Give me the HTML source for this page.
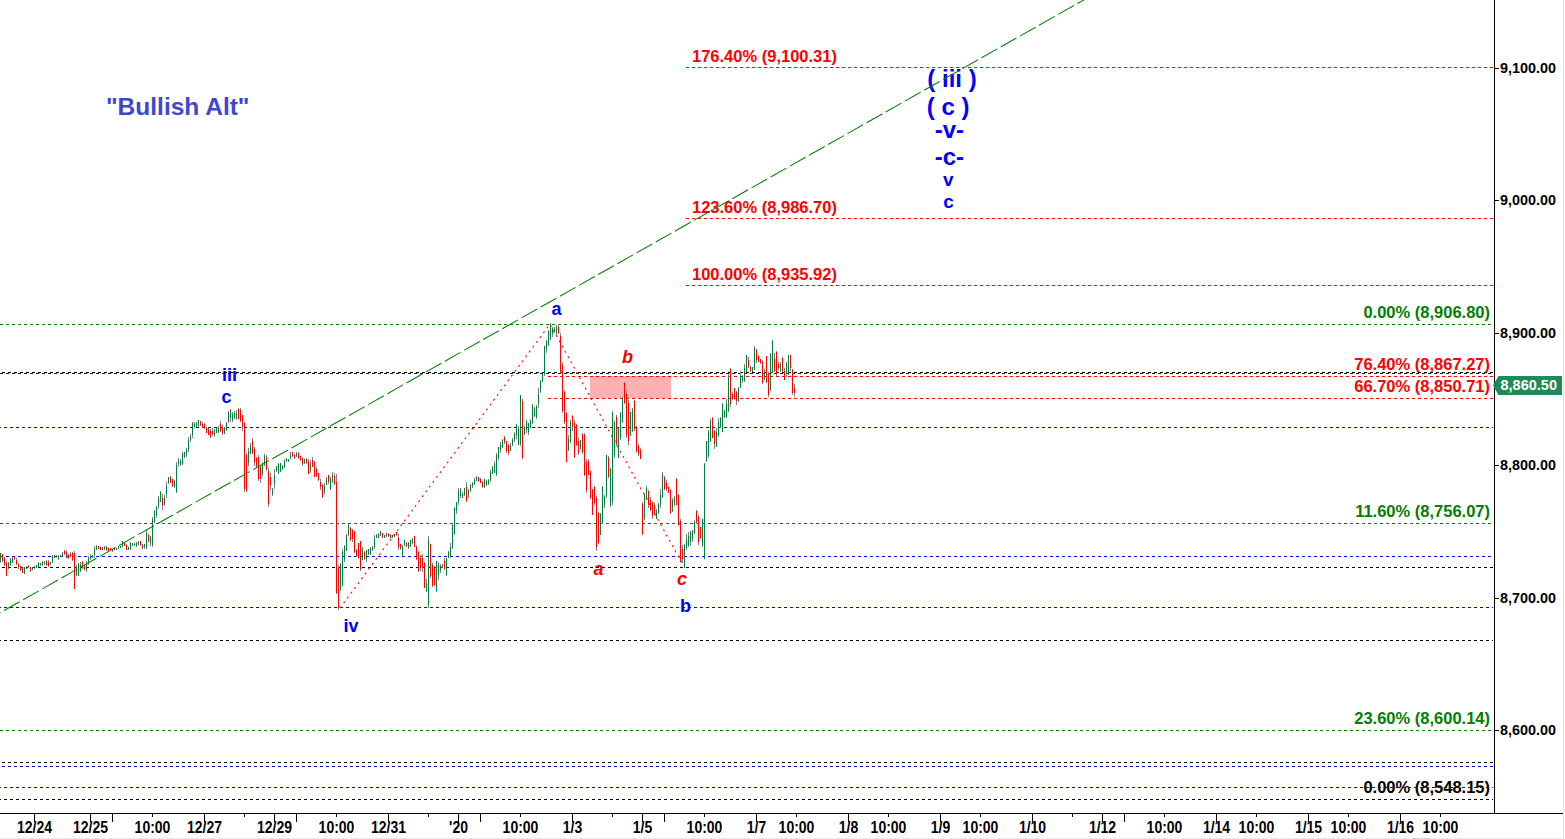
<!DOCTYPE html>
<html><head><meta charset="utf-8">
<style>
html,body{margin:0;padding:0;background:#fff;}
body{width:1565px;height:839px;overflow:hidden;position:relative;}
svg{position:absolute;left:0;top:0;}
text{font-family:"Liberation Sans",sans-serif;font-weight:bold;}
</style></head><body>
<svg width="1565" height="839" viewBox="0 0 1565 839">
<rect x="0" y="0" width="1565" height="839" fill="#ffffff"/>

<rect x="590" y="376" width="81" height="22" fill="#ffb0b0"/>
<text x="106" y="115" font-size="24.5" fill="#3f48cc">"Bullish Alt"</text>
<text x="229.5" y="381" font-size="18" fill="#0000ff" text-anchor="middle">iii</text>
<text x="226.5" y="403" font-size="18" fill="#0000ff" text-anchor="middle">c</text>
<text x="351" y="632" font-size="18" fill="#0000ff" text-anchor="middle">iv</text>
<text x="556.5" y="315" font-size="18" fill="#0000ff" text-anchor="middle">a</text>
<text x="685.5" y="612" font-size="18" fill="#0000ff" text-anchor="middle">b</text>
<text x="627.5" y="363" font-size="18" fill="#ff0000" text-anchor="middle" font-style="italic">b</text>
<text x="598.5" y="575" font-size="18" fill="#ff0000" text-anchor="middle" font-style="italic">a</text>
<text x="682" y="585" font-size="18" fill="#ff0000" text-anchor="middle" font-style="italic">c</text>
<text x="952" y="87" font-size="24" fill="#0000ff" text-anchor="middle">( iii )</text>
<text x="948.2" y="115" font-size="24" fill="#0000ff" text-anchor="middle">( c )</text>
<text x="949.4" y="137.5" font-size="24" fill="#0000ff" text-anchor="middle">-v-</text>
<text x="949.4" y="165" font-size="24" fill="#0000ff" text-anchor="middle">-c-</text>
<text x="948.3" y="186" font-size="19" fill="#0000ff" text-anchor="middle">v</text>
<text x="948.6" y="207.5" font-size="19" fill="#0000ff" text-anchor="middle">c</text>
<text x="692" y="61.5" font-size="16.5" fill="#ff0000">176.40% (9,100.31)</text>
<text x="692" y="212.5" font-size="16.5" fill="#ff0000">123.60% (8,986.70)</text>
<text x="692" y="279.5" font-size="16.5" fill="#ff0000">100.00% (8,935.92)</text>
<text x="1490" y="318" font-size="16.5" fill="#008000" text-anchor="end">0.00% (8,906.80)</text>
<text x="1490" y="370" font-size="16.5" fill="#ff0000" text-anchor="end">76.40% (8,867.27)</text>
<text x="1490" y="392" font-size="16.5" fill="#ff0000" text-anchor="end">66.70% (8,850.71)</text>
<text x="1490" y="517" font-size="16.5" fill="#008000" text-anchor="end">11.60% (8,756.07)</text>
<text x="1490" y="724" font-size="16.5" fill="#008000" text-anchor="end">23.60% (8,600.14)</text>
<text x="1490" y="793" font-size="16.5" fill="#000000" text-anchor="end">0.00% (8,548.15)</text>
<g shape-rendering="crispEdges">
<line x1="686" y1="67.5" x2="1493" y2="67.5" stroke="#ff0000" stroke-width="1" stroke-dasharray="3 3" stroke-dashoffset="0"/>
<line x1="686" y1="218.5" x2="1493" y2="218.5" stroke="#ff0000" stroke-width="1" stroke-dasharray="3 3" stroke-dashoffset="0"/>
<line x1="686" y1="285.5" x2="1493" y2="285.5" stroke="#ff0000" stroke-width="1" stroke-dasharray="3 3" stroke-dashoffset="0"/>
<line x1="0" y1="324.5" x2="1493" y2="324.5" stroke="#008000" stroke-width="1" stroke-dasharray="3 3" stroke-dashoffset="0"/>
<line x1="0" y1="372.5" x2="1493" y2="372.5" stroke="#000000" stroke-width="1" stroke-dasharray="3 3" stroke-dashoffset="4"/>
<line x1="0" y1="373.5" x2="1493" y2="373.5" stroke="#0000ff" stroke-width="1" stroke-dasharray="3 3" stroke-dashoffset="0"/>
<line x1="548" y1="376.5" x2="1493" y2="376.5" stroke="#ff0000" stroke-width="1" stroke-dasharray="3 3" stroke-dashoffset="0"/>
<line x1="548" y1="398.5" x2="1493" y2="398.5" stroke="#ff0000" stroke-width="1" stroke-dasharray="3 3" stroke-dashoffset="0"/>
<line x1="0" y1="427.5" x2="1493" y2="427.5" stroke="#0000ff" stroke-width="1" stroke-dasharray="3 3" stroke-dashoffset="2"/>
<line x1="0" y1="523.5" x2="1493" y2="523.5" stroke="#008000" stroke-width="1" stroke-dasharray="3 3" stroke-dashoffset="0"/>
<line x1="0" y1="556.5" x2="1493" y2="556.5" stroke="#0000ff" stroke-width="1" stroke-dasharray="3 3" stroke-dashoffset="0"/>
<line x1="0" y1="567.5" x2="1493" y2="567.5" stroke="#000000" stroke-width="1" stroke-dasharray="3 3" stroke-dashoffset="4"/>
<line x1="0" y1="607.5" x2="1493" y2="607.5" stroke="#0000ff" stroke-width="1" stroke-dasharray="3 3" stroke-dashoffset="2"/>
<line x1="0" y1="640.5" x2="1493" y2="640.5" stroke="#000000" stroke-width="1" stroke-dasharray="3 3" stroke-dashoffset="2"/>
<line x1="0" y1="730.5" x2="1493" y2="730.5" stroke="#008000" stroke-width="1" stroke-dasharray="3 3" stroke-dashoffset="0"/>
<line x1="0" y1="762.5" x2="1493" y2="762.5" stroke="#000000" stroke-width="1" stroke-dasharray="3 3" stroke-dashoffset="4"/>
<line x1="0" y1="766.5" x2="1493" y2="766.5" stroke="#0000ff" stroke-width="1" stroke-dasharray="3 3" stroke-dashoffset="4"/>
<line x1="0" y1="787.5" x2="1493" y2="787.5" stroke="#0000ff" stroke-width="1" stroke-dasharray="3 3" stroke-dashoffset="2"/>
<line x1="0" y1="799.5" x2="1493" y2="799.5" stroke="#000000" stroke-width="1" stroke-dasharray="3 3" stroke-dashoffset="2"/>
</g>
<g shape-rendering="crispEdges">
<path d="M0.5 553V563M2.5 554V562M4.5 557V566M6.5 561V576M8.5 562V569M10.5 558V566M12.5 557V563M14.5 556V560M16.5 558V565M18.5 563V569M20.5 566V571M22.5 567V573M24.5 567V574M26.5 566V569M28.5 565V568M30.5 567V572M32.5 567V570M34.5 566V569M36.5 565V568M38.5 562V567M40.5 563V566M42.5 561V566M44.5 561V565M46.5 560V566M48.5 560V567M50.5 562V565M52.5 555V563M54.5 555V558M56.5 555V558M58.5 555V560M60.5 555V557M62.5 552V556M64.5 550V555M66.5 550V558M68.5 554V559M70.5 552V557M72.5 552V561M74.5 551V589M76.5 565V576M78.5 563V576M80.5 562V572M82.5 561V569M84.5 565V570M86.5 561V572M88.5 556V565M90.5 554V560M92.5 555V558M94.5 546V558M96.5 545V550M98.5 546V549M100.5 547V550M102.5 547V550M104.5 546V550M106.5 546V551M108.5 548V551M110.5 548V550M112.5 549V552M114.5 547V550M116.5 548V550M118.5 546V549M120.5 546V548M122.5 541V547M124.5 542V546M126.5 544V550M128.5 547V550M130.5 542V550M132.5 543V546M134.5 543V546M136.5 542V547M138.5 541V545M140.5 541V546M142.5 544V549M144.5 544V549M146.5 530V549M148.5 534V542M150.5 536V546M152.5 517V547M154.5 510V523M156.5 506V518M158.5 496V509M160.5 491V502M162.5 494V510M164.5 495V506M166.5 482V498M168.5 477V484M170.5 476V483M172.5 479V487M174.5 480V488M176.5 462V493M178.5 458V467M180.5 459V466M182.5 452V465M184.5 452V458M186.5 448V457M188.5 437V452M190.5 434V442M192.5 422V438M194.5 422V428M196.5 422V427M198.5 420V427M200.5 421V426M202.5 422V428M204.5 423V429M206.5 427V433M208.5 428V435M210.5 429V438M212.5 428V436M214.5 429V437M216.5 428V433M218.5 426V433M220.5 421V432M222.5 425V435M224.5 427V434M226.5 422V431M228.5 411V423M230.5 409V422M232.5 412V422M234.5 411V419M236.5 410V420M238.5 408V419M240.5 408V422M242.5 415V431M244.5 422V492M246.5 453V492M248.5 448V466M250.5 443V454M252.5 438V454M254.5 447V466M256.5 457V468M258.5 455V481M260.5 465V483M262.5 462V476M264.5 454V466M266.5 455V471M268.5 468V507M270.5 473V490M272.5 488V496M274.5 469V489M276.5 466V472M278.5 463V474M280.5 463V472M282.5 465V470M284.5 459V468M286.5 458V462M288.5 459V462M290.5 452V459M292.5 452V457M294.5 454V459M296.5 452V457M298.5 452V459M300.5 456V461M302.5 458V466M304.5 459V464M306.5 458V464M308.5 459V474M310.5 460V473M312.5 457V467M314.5 461V477M316.5 467V477M318.5 473V481M320.5 479V490M322.5 484V498M324.5 483V494M326.5 477V485M328.5 475V484M330.5 477V490M332.5 472V483M334.5 473V485M336.5 474V594M338.5 565V610M340.5 563V591M342.5 549V586M344.5 545V562M346.5 534V551M348.5 524V536M350.5 527V541M352.5 529V542M354.5 531V553M356.5 549V557M358.5 543V559M360.5 541V571M362.5 547V560M364.5 551V560M366.5 550V562M368.5 549V555M370.5 547V555M372.5 546V551M374.5 535V549M376.5 534V538M378.5 533V538M380.5 531V536M382.5 533V538M384.5 535V538M386.5 533V537M388.5 533V537M390.5 534V538M392.5 535V538M394.5 534V537M396.5 532V536M398.5 534V550M400.5 544V550M402.5 545V556M404.5 540V546M406.5 542V547M408.5 542V549M410.5 540V547M412.5 538V544M414.5 536V547M416.5 545V560M418.5 551V572M420.5 555V571M422.5 554V572M424.5 562V588M426.5 579V592M428.5 536V608M430.5 544V578M432.5 563V587M434.5 566V586M436.5 561V592M438.5 562V580M440.5 564V573M442.5 564V568M444.5 558V570M446.5 558V576M448.5 551V558M450.5 543V558M452.5 523V549M454.5 507V535M456.5 502V514M458.5 488V505M460.5 488V498M462.5 492V498M464.5 488V496M466.5 482V502M468.5 489V498M470.5 484V492M472.5 482V488M474.5 478V485M476.5 476V481M478.5 477V482M480.5 478V483M482.5 481V488M484.5 479V488M486.5 480V486M488.5 479V485M490.5 470V482M492.5 466V474M494.5 461V473M496.5 453V476M498.5 447V460M500.5 442V453M502.5 439V448M504.5 436V444M506.5 441V453M508.5 444V455M510.5 443V451M512.5 438V446M514.5 432V442M516.5 424V439M518.5 426V445M520.5 395V446M522.5 399V459M524.5 426V435M526.5 420V433M528.5 423V435M530.5 419V428M532.5 404V424M534.5 407V417M536.5 405V419M538.5 388V408M540.5 380V393M542.5 373V382M544.5 346V376M546.5 340V353M548.5 330V346M550.5 323V340M552.5 327V337M554.5 327V333M556.5 325V335M558.5 324V334M560.5 333V373M562.5 362V413M564.5 390V424M566.5 412V462M568.5 435V451M570.5 420V443M572.5 415V431M574.5 420V458M576.5 424V446M578.5 438V455M580.5 440V449M582.5 433V454M584.5 433V476M586.5 459V493M588.5 459V475M590.5 471V499M592.5 489V515M594.5 486V505M596.5 496V551M598.5 512V544M600.5 513V535M602.5 486V524M604.5 495V508M606.5 455V498M608.5 456V478M610.5 468V507M612.5 411V505M614.5 421V458M616.5 415V446M618.5 428V458M620.5 412V440M622.5 397V423M624.5 382V404M626.5 390V438M628.5 400V445M630.5 412V436M632.5 408V432M634.5 400V431M636.5 426V453M638.5 444V456M640.5 448V459M642.5 502V535M644.5 493V520M646.5 486V499M648.5 490V508M650.5 497V511M652.5 502V519M654.5 503V515M656.5 509V519M658.5 503V514M660.5 489V508M662.5 472V498M664.5 476V490M666.5 480V491M668.5 486V493M670.5 489V514M672.5 498V512M674.5 496V506M676.5 478V505M678.5 494V526M680.5 519V562M682.5 545V563M684.5 544V568M686.5 534V550M688.5 532V547M690.5 531V546M692.5 530V542M694.5 520V534M696.5 510V524M698.5 515V545M700.5 527V539M702.5 519V547M704.5 463V559M706.5 441V462M708.5 430V458M710.5 419V442M712.5 417V438M714.5 430V449M716.5 428V447M718.5 418V437M720.5 417V428M722.5 403V432M724.5 410V418M726.5 399V418M728.5 374V412M730.5 368V407M732.5 392V400M734.5 388V400M736.5 391V405M738.5 387V402M740.5 371V388M742.5 375V383M744.5 364V382M746.5 355V372M748.5 357V368M750.5 366V372M752.5 367V372M754.5 346V370M756.5 349V363M758.5 355V362M760.5 359V364M762.5 360V384M764.5 369V380M766.5 356V383M768.5 372V397M770.5 353V391M772.5 340V373M774.5 353V372M776.5 351V376M778.5 362V370M780.5 362V372M782.5 357V372M784.5 368V380M786.5 362V377M788.5 355V375M790.5 355V371M792.5 369V395M794.5 384V397" stroke="#808080" stroke-width="1" fill="none"/>
<path d="M0.5 553V561M8.5 563V569M10.5 559V565M12.5 558V563M24.5 567V574M26.5 567V569M32.5 567V570M34.5 566V568M36.5 565V568M38.5 563V567M40.5 563V565M42.5 562V565M44.5 562V564M50.5 562V564M52.5 556V562M54.5 555V558M58.5 556V559M60.5 555V557M62.5 553V556M76.5 567V575M78.5 563V576M80.5 564V571M86.5 563V570M88.5 558V563M90.5 556V559M92.5 555V558M94.5 549V555M96.5 546V550M102.5 547V550M104.5 547V549M114.5 548V550M116.5 548V550M118.5 546V548M120.5 546V548M122.5 541V547M128.5 547V549M130.5 543V549M132.5 543V545M134.5 544V545M136.5 543V546M138.5 541V545M144.5 544V547M146.5 533V548M150.5 537V543M152.5 519V545M154.5 511V522M156.5 507V515M158.5 498V506M160.5 492V502M164.5 498V504M166.5 486V494M168.5 477V483M174.5 481V487M176.5 465V492M178.5 461V464M180.5 461V465M182.5 453V464M184.5 452V457M186.5 450V454M188.5 440V450M190.5 436V440M192.5 423V435M194.5 424V427M196.5 423V426M198.5 420V425M214.5 430V435M216.5 428V433M218.5 428V432M224.5 427V434M226.5 423V430M228.5 413V422M230.5 410V418M232.5 414V420M234.5 413V418M236.5 413V418M248.5 451V463M250.5 446V454M262.5 464V474M264.5 456V465M272.5 489V494M274.5 475V484M276.5 466V471M278.5 464V474M280.5 463V472M282.5 466V469M284.5 461V467M286.5 459V461M288.5 459V461M290.5 455V459M296.5 453V456M304.5 459V463M310.5 464V470M324.5 486V492M326.5 479V485M330.5 479V489M332.5 475V481M340.5 564V590M342.5 552V586M344.5 546V559M346.5 535V551M348.5 525V535M362.5 549V560M366.5 550V559M368.5 549V554M370.5 549V554M372.5 547V550M374.5 539V547M376.5 535V538M378.5 534V538M380.5 531V536M384.5 535V538M386.5 533V536M392.5 535V537M394.5 534V537M402.5 546V555M404.5 540V545M408.5 543V548M410.5 540V546M412.5 539V543M426.5 583V591M428.5 540V605M436.5 561V591M438.5 565V575M440.5 566V570M442.5 565V567M446.5 558V575M448.5 552V558M450.5 547V556M452.5 525V548M454.5 508V534M456.5 502V511M458.5 491V502M460.5 489V496M462.5 494V498M464.5 488V495M468.5 491V495M470.5 485V491M472.5 483V486M474.5 480V484M476.5 477V481M484.5 479V487M486.5 481V485M488.5 480V484M490.5 472V480M492.5 467V474M494.5 464V473M496.5 455V474M498.5 447V458M500.5 445V450M502.5 440V447M510.5 446V451M512.5 440V445M514.5 434V440M516.5 425V435M518.5 429V445M520.5 395V444M524.5 427V434M526.5 421V430M528.5 423V432M530.5 421V428M532.5 405V423M534.5 409V416M536.5 406V417M538.5 394V404M540.5 381V391M542.5 373V382M544.5 346V374M546.5 341V349M548.5 331V345M550.5 326V339M552.5 328V334M554.5 329V332M556.5 327V332M568.5 439V450M570.5 421V442M580.5 440V449M600.5 514V535M602.5 487V523M604.5 496V505M606.5 455V496M610.5 469V506M612.5 413V502M614.5 422V455M618.5 428V458M620.5 413V438M622.5 398V422M630.5 412V436M632.5 409V431M644.5 495V518M646.5 488V499M656.5 511V519M658.5 504V513M660.5 495V504M662.5 474V497M672.5 500V511M674.5 498V503M684.5 545V568M686.5 539V548M688.5 536V546M690.5 532V542M692.5 531V539M694.5 522V533M702.5 519V545M704.5 464V559M706.5 441V461M708.5 432V456M710.5 421V441M716.5 432V447M718.5 422V435M720.5 418V427M722.5 404V432M724.5 411V417M726.5 404V417M728.5 377V411M738.5 388V401M740.5 376V388M742.5 376V381M744.5 368V381M746.5 355V372M752.5 367V372M754.5 348V369M764.5 372V380M770.5 354V390M772.5 341V372M780.5 364V371M786.5 363V373M788.5 355V375" stroke="#008040" stroke-width="1" fill="none"/>
<path d="M2.5 554V561M4.5 558V565M6.5 563V576M14.5 556V559M16.5 560V564M18.5 564V567M20.5 566V570M22.5 567V573M28.5 566V567M30.5 567V571M46.5 561V565M48.5 562V566M56.5 556V557M64.5 551V554M66.5 552V558M68.5 555V558M70.5 554V556M72.5 553V560M74.5 553V589M82.5 562V568M84.5 566V570M98.5 546V549M100.5 547V550M106.5 547V550M108.5 548V551M110.5 548V549M112.5 549V551M124.5 542V546M126.5 545V550M140.5 541V545M142.5 545V548M148.5 535V542M162.5 498V505M170.5 477V483M172.5 479V486M200.5 421V425M202.5 424V428M204.5 424V428M206.5 428V433M208.5 429V435M210.5 431V437M212.5 431V434M220.5 424V431M222.5 428V433M238.5 409V419M240.5 410V421M242.5 415V427M244.5 423V489M246.5 455V491M252.5 441V453M254.5 449V462M256.5 458V466M258.5 457V479M260.5 467V479M266.5 457V469M268.5 471V504M270.5 477V485M292.5 452V456M294.5 455V458M298.5 453V458M300.5 456V460M302.5 458V464M306.5 459V463M308.5 462V474M312.5 460V467M314.5 462V477M316.5 469V476M318.5 473V480M320.5 482V487M322.5 485V497M328.5 475V482M334.5 476V484M336.5 482V593M338.5 568V608M350.5 528V540M352.5 530V539M354.5 531V552M356.5 550V556M358.5 543V558M360.5 541V569M364.5 552V558M382.5 533V537M388.5 534V536M390.5 535V538M396.5 532V535M398.5 538V547M400.5 544V548M406.5 543V546M414.5 536V547M416.5 547V559M418.5 552V571M420.5 558V568M422.5 558V567M424.5 563V588M430.5 544V576M432.5 565V586M434.5 567V585M444.5 561V569M466.5 487V501M478.5 477V481M480.5 479V483M482.5 482V487M504.5 437V442M506.5 441V451M508.5 445V453M522.5 401V458M558.5 327V333M560.5 336V372M562.5 365V411M564.5 392V422M566.5 413V462M572.5 416V427M574.5 423V457M576.5 425V445M578.5 441V453M582.5 434V452M584.5 435V475M586.5 462V490M588.5 461V475M590.5 471V498M592.5 489V515M594.5 487V503M596.5 498V547M598.5 513V543M608.5 458V477M616.5 417V444M624.5 383V403M626.5 394V435M628.5 403V441M634.5 401V429M636.5 427V451M638.5 446V454M640.5 450V459M642.5 504V534M648.5 491V505M650.5 500V510M652.5 502V516M654.5 505V514M664.5 477V489M666.5 483V489M668.5 487V493M670.5 490V513M676.5 479V505M678.5 495V525M680.5 521V562M682.5 549V559M696.5 511V522M698.5 517V542M700.5 527V538M712.5 418V438M714.5 431V444M730.5 369V404M732.5 394V399M734.5 388V398M736.5 392V401M748.5 360V367M750.5 367V371M756.5 350V360M758.5 356V362M760.5 359V363M762.5 362V383M766.5 356V382M768.5 374V395M774.5 359V371M776.5 352V374M778.5 364V368M782.5 358V371M784.5 371V380M790.5 355V368M792.5 370V393M794.5 388V393" stroke="#ff0000" stroke-width="1" fill="none"/>
</g>
<line x1="0" y1="612.8" x2="1100.0" y2="-9.2" stroke="#008000" stroke-width="1.05" stroke-dasharray="18 4.02" stroke-dashoffset="-4.6"/>
<polyline points="340,608 550,324 683,565" fill="none" stroke="#ff0000" stroke-width="1.1" stroke-dasharray="2 4"/>
<g shape-rendering="crispEdges">
<line x1="1494.5" y1="0" x2="1494.5" y2="813" stroke="#000" stroke-width="1"/>
<line x1="0" y1="813.5" x2="1563" y2="813.5" stroke="#000" stroke-width="1"/>
<line x1="1563.5" y1="0" x2="1563.5" y2="839" stroke="#e4e4e4" stroke-width="1"/>
<line x1="0" y1="838.5" x2="1563" y2="838.5" stroke="#ececec" stroke-width="1"/>
<line x1="1412" y1="838.5" x2="1429" y2="838.5" stroke="#d4d4d4" stroke-width="1"/>
<line x1="1495" y1="68.5" x2="1499" y2="68.5" stroke="#000" stroke-width="1"/>
<line x1="1495" y1="200.5" x2="1499" y2="200.5" stroke="#000" stroke-width="1"/>
<line x1="1495" y1="333.5" x2="1499" y2="333.5" stroke="#000" stroke-width="1"/>
<line x1="1495" y1="465.5" x2="1499" y2="465.5" stroke="#000" stroke-width="1"/>
<line x1="1495" y1="598.5" x2="1499" y2="598.5" stroke="#000" stroke-width="1"/>
<line x1="1495" y1="730.5" x2="1499" y2="730.5" stroke="#000" stroke-width="1"/>
<line x1="34.5" y1="814" x2="34.5" y2="822" stroke="#000" stroke-width="1"/>
<line x1="90.5" y1="814" x2="90.5" y2="822" stroke="#000" stroke-width="1"/>
<line x1="112.5" y1="814" x2="112.5" y2="822" stroke="#000" stroke-width="1"/>
<line x1="204.5" y1="814" x2="204.5" y2="822" stroke="#000" stroke-width="1"/>
<line x1="274.5" y1="814" x2="274.5" y2="822" stroke="#000" stroke-width="1"/>
<line x1="296.5" y1="814" x2="296.5" y2="822" stroke="#000" stroke-width="1"/>
<line x1="388.5" y1="814" x2="388.5" y2="822" stroke="#000" stroke-width="1"/>
<line x1="458.5" y1="814" x2="458.5" y2="822" stroke="#000" stroke-width="1"/>
<line x1="480.5" y1="814" x2="480.5" y2="822" stroke="#000" stroke-width="1"/>
<line x1="572.5" y1="814" x2="572.5" y2="822" stroke="#000" stroke-width="1"/>
<line x1="642.5" y1="814" x2="642.5" y2="822" stroke="#000" stroke-width="1"/>
<line x1="664.5" y1="814" x2="664.5" y2="822" stroke="#000" stroke-width="1"/>
<line x1="756.5" y1="814" x2="756.5" y2="822" stroke="#000" stroke-width="1"/>
<line x1="848.5" y1="814" x2="848.5" y2="822" stroke="#000" stroke-width="1"/>
<line x1="940.5" y1="814" x2="940.5" y2="822" stroke="#000" stroke-width="1"/>
<line x1="1032.5" y1="814" x2="1032.5" y2="822" stroke="#000" stroke-width="1"/>
<line x1="1102.5" y1="814" x2="1102.5" y2="822" stroke="#000" stroke-width="1"/>
<line x1="1124.5" y1="814" x2="1124.5" y2="822" stroke="#000" stroke-width="1"/>
<line x1="1216.5" y1="814" x2="1216.5" y2="822" stroke="#000" stroke-width="1"/>
<line x1="1308.5" y1="814" x2="1308.5" y2="822" stroke="#000" stroke-width="1"/>
<line x1="1400.5" y1="814" x2="1400.5" y2="822" stroke="#000" stroke-width="1"/>
<line x1="152.5" y1="814" x2="152.5" y2="817" stroke="#000" stroke-width="1"/>
<line x1="244.5" y1="814" x2="244.5" y2="817" stroke="#000" stroke-width="1"/>
<line x1="336.5" y1="814" x2="336.5" y2="817" stroke="#000" stroke-width="1"/>
<line x1="428.5" y1="814" x2="428.5" y2="817" stroke="#000" stroke-width="1"/>
<line x1="520.5" y1="814" x2="520.5" y2="817" stroke="#000" stroke-width="1"/>
<line x1="612.5" y1="814" x2="612.5" y2="817" stroke="#000" stroke-width="1"/>
<line x1="704.5" y1="814" x2="704.5" y2="817" stroke="#000" stroke-width="1"/>
<line x1="796.5" y1="814" x2="796.5" y2="817" stroke="#000" stroke-width="1"/>
<line x1="888.5" y1="814" x2="888.5" y2="817" stroke="#000" stroke-width="1"/>
<line x1="980.5" y1="814" x2="980.5" y2="817" stroke="#000" stroke-width="1"/>
<line x1="1072.5" y1="814" x2="1072.5" y2="817" stroke="#000" stroke-width="1"/>
<line x1="1164.5" y1="814" x2="1164.5" y2="817" stroke="#000" stroke-width="1"/>
<line x1="1256.5" y1="814" x2="1256.5" y2="817" stroke="#000" stroke-width="1"/>
<line x1="1348.5" y1="814" x2="1348.5" y2="817" stroke="#000" stroke-width="1"/>
<line x1="1440.5" y1="814" x2="1440.5" y2="817" stroke="#000" stroke-width="1"/>
</g>
<text transform="translate(1500,73) scale(1,1.06)" font-size="14.4" fill="#000">9,100.00</text>
<text transform="translate(1500,205) scale(1,1.06)" font-size="14.4" fill="#000">9,000.00</text>
<text transform="translate(1500,338) scale(1,1.06)" font-size="14.4" fill="#000">8,900.00</text>
<text transform="translate(1500,470) scale(1,1.06)" font-size="14.4" fill="#000">8,800.00</text>
<text transform="translate(1500,603) scale(1,1.06)" font-size="14.4" fill="#000">8,700.00</text>
<text transform="translate(1500,735) scale(1,1.06)" font-size="14.4" fill="#000">8,600.00</text>
<text transform="translate(34.5,833) scale(1,1.13)" font-size="14" fill="#000" text-anchor="middle">12/24</text>
<text transform="translate(90.5,833) scale(1,1.13)" font-size="14" fill="#000" text-anchor="middle">12/25</text>
<text transform="translate(152.5,833) scale(1,1.13)" font-size="14" fill="#000" text-anchor="middle">10:00</text>
<text transform="translate(204.5,833) scale(1,1.13)" font-size="14" fill="#000" text-anchor="middle">12/27</text>
<text transform="translate(274.5,833) scale(1,1.13)" font-size="14" fill="#000" text-anchor="middle">12/29</text>
<text transform="translate(336.5,833) scale(1,1.13)" font-size="14" fill="#000" text-anchor="middle">10:00</text>
<text transform="translate(388.5,833) scale(1,1.13)" font-size="14" fill="#000" text-anchor="middle">12/31</text>
<text transform="translate(458.5,833) scale(1,1.13)" font-size="14" fill="#000" text-anchor="middle">'20</text>
<text transform="translate(520.5,833) scale(1,1.13)" font-size="14" fill="#000" text-anchor="middle">10:00</text>
<text transform="translate(572.5,833) scale(1,1.13)" font-size="14" fill="#000" text-anchor="middle">1/3</text>
<text transform="translate(642.5,833) scale(1,1.13)" font-size="14" fill="#000" text-anchor="middle">1/5</text>
<text transform="translate(704.5,833) scale(1,1.13)" font-size="14" fill="#000" text-anchor="middle">10:00</text>
<text transform="translate(756.5,833) scale(1,1.13)" font-size="14" fill="#000" text-anchor="middle">1/7</text>
<text transform="translate(796.5,833) scale(1,1.13)" font-size="14" fill="#000" text-anchor="middle">10:00</text>
<text transform="translate(848.5,833) scale(1,1.13)" font-size="14" fill="#000" text-anchor="middle">1/8</text>
<text transform="translate(888.5,833) scale(1,1.13)" font-size="14" fill="#000" text-anchor="middle">10:00</text>
<text transform="translate(940.5,833) scale(1,1.13)" font-size="14" fill="#000" text-anchor="middle">1/9</text>
<text transform="translate(980.5,833) scale(1,1.13)" font-size="14" fill="#000" text-anchor="middle">10:00</text>
<text transform="translate(1032.5,833) scale(1,1.13)" font-size="14" fill="#000" text-anchor="middle">1/10</text>
<text transform="translate(1102.5,833) scale(1,1.13)" font-size="14" fill="#000" text-anchor="middle">1/12</text>
<text transform="translate(1164.5,833) scale(1,1.13)" font-size="14" fill="#000" text-anchor="middle">10:00</text>
<text transform="translate(1216.5,833) scale(1,1.13)" font-size="14" fill="#000" text-anchor="middle">1/14</text>
<text transform="translate(1256.5,833) scale(1,1.13)" font-size="14" fill="#000" text-anchor="middle">10:00</text>
<text transform="translate(1308.5,833) scale(1,1.13)" font-size="14" fill="#000" text-anchor="middle">1/15</text>
<text transform="translate(1348.5,833) scale(1,1.13)" font-size="14" fill="#000" text-anchor="middle">10:00</text>
<text transform="translate(1400.5,833) scale(1,1.13)" font-size="14" fill="#000" text-anchor="middle">1/16</text>
<text transform="translate(1440.5,833) scale(1,1.13)" font-size="14" fill="#000" text-anchor="middle">10:00</text>
<polygon points="1493,385.5 1498.5,376 1562,376 1562,395 1498.5,395" fill="#1e8a55"/>
<text x="1500.5" y="389.6" font-size="14.5" fill="#ffffff">8,860.50</text>
</svg></body></html>
